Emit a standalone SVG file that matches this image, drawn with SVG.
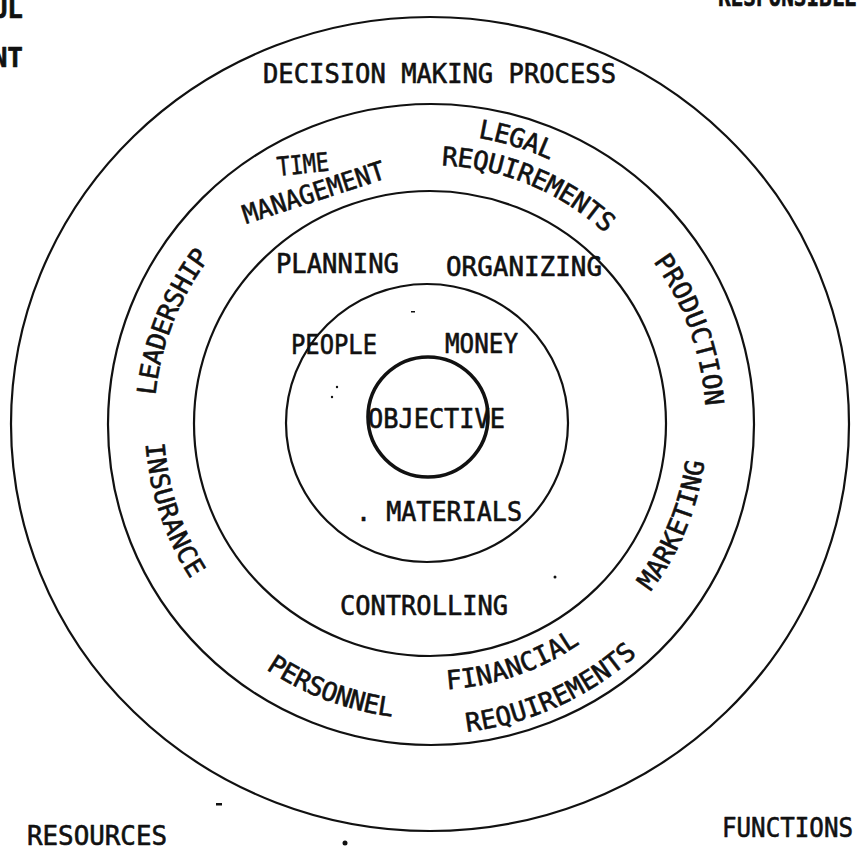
<svg xmlns="http://www.w3.org/2000/svg" width="857" height="848" viewBox="0 0 857 848">
<style>
.ring{fill:none;stroke:#111;stroke-width:2.2}
.obj{fill:none;stroke:#111;stroke-width:3.6}
.t{font-family:"DejaVu Sans Mono","Liberation Mono",monospace;font-size:26px;fill:#111;stroke:#111;stroke-width:0.6;stroke-linejoin:round}
.p{letter-spacing:-0.6px}
.b{font-weight:bold}
.speck{fill:#111}
</style>
<defs>
<path id="cw276" d="M154,424 A276,276 0 1 1 706,424 A276,276 0 1 1 154,424"/>
<path id="cw290" d="M140,424 A290,290 0 1 1 720,424 A290,290 0 1 1 140,424"/>
<path id="cw259" d="M171,424 A259,259 0 1 1 689,424 A259,259 0 1 1 171,424"/>
<path id="ccw285" d="M145,424 A285,285 0 1 0 715,424 A285,285 0 1 0 145,424"/>
<path id="ccw277" d="M153,424 A277,277 0 1 0 707,424 A277,277 0 1 0 153,424"/>
<path id="ccw295" d="M135,424 A295,295 0 1 0 725,424 A295,295 0 1 0 135,424"/>
<path id="ccw266" d="M164,424 A266,266 0 1 0 696,424 A266,266 0 1 0 164,424"/>
<path id="ccw310" d="M120,424 A310,310 0 1 0 740,424 A310,310 0 1 0 120,424"/>
</defs>
<rect width="857" height="848" fill="#fff"/>

<g id="rings">
<ellipse id="ring-outer" class="ring" cx="430" cy="424" rx="419" ry="407"/>
<ellipse id="ring-2" class="ring" cx="431" cy="424.5" rx="323" ry="320.5"/>
<ellipse id="ring-3" class="ring" cx="430" cy="423.5" rx="236" ry="232.5"/>
<ellipse id="ring-4" class="ring" cx="427" cy="423" rx="141" ry="139"/>
</g>

<g id="objective">
<circle class="obj" cx="428" cy="417" r="60"/>
<text class="t" x="368" y="428" textLength="137" lengthAdjust="spacingAndGlyphs">OBJECTIVE</text>
</g>

<g id="corner-labels">
<text class="t b" x="23" y="18" text-anchor="end">UL</text>
<text class="t b" x="23" y="67" text-anchor="end">NT</text>
<text class="t b" x="718" y="6" textLength="139" lengthAdjust="spacingAndGlyphs">RESPONSIBLE</text>
<text class="t" x="27" y="845" textLength="140" lengthAdjust="spacingAndGlyphs">RESOURCES</text>
<text class="t" x="722" y="837" textLength="131" lengthAdjust="spacingAndGlyphs">FUNCTIONS</text>
</g>

<g id="decision-making-process">
<text class="t" x="263" y="83" textLength="353" lengthAdjust="spacingAndGlyphs">DECISION MAKING PROCESS</text>
</g>

<g id="management-functions">
<text class="t" x="276" y="273" textLength="123" lengthAdjust="spacingAndGlyphs">PLANNING</text>
<text class="t" x="446" y="276" textLength="156" lengthAdjust="spacingAndGlyphs">ORGANIZING</text>
<text class="t" x="340" y="615" textLength="168" lengthAdjust="spacingAndGlyphs">CONTROLLING</text>
</g>

<g id="resources">
<text class="t" x="291" y="354" textLength="86" lengthAdjust="spacingAndGlyphs">PEOPLE</text>
<text class="t" x="445" y="353" textLength="73" lengthAdjust="spacingAndGlyphs">MONEY</text>
<text class="t" x="356" y="521" textLength="166" lengthAdjust="spacingAndGlyphs">. MATERIALS</text>
</g>

<g id="time-management">
<text class="t" x="278" y="176" transform="rotate(-6 278 176)" textLength="52" lengthAdjust="spacingAndGlyphs">TIME</text>
<text class="t" x="246" y="224" transform="rotate(-18 246 224)" textLength="148" lengthAdjust="spacingAndGlyphs">MANAGEMENT</text>
</g>

<g id="legal-requirements">
<text class="t p" text-anchor="middle"><textPath href="#cw290" startOffset="541">LEGAL</textPath></text>
<text class="t p" text-anchor="middle"><textPath href="#cw259" startOffset="508.5">REQUIREMENTS</textPath></text>
</g>

<g id="leadership">
<text class="t p" text-anchor="middle"><textPath href="#cw276" startOffset="103.6">LEADERSHIP</textPath></text>
</g>

<g id="insurance">
<text class="t" text-anchor="middle" style="letter-spacing:0.4px"><textPath href="#ccw285" startOffset="92">INSURANCE</textPath></text>
</g>

<g id="production">
<text class="t" text-anchor="middle" style="letter-spacing:-0.1px"><textPath href="#cw276" startOffset="771">PRODUCTION</textPath></text>
</g>

<g id="marketing">
<text class="t" text-anchor="middle" style="letter-spacing:0.2px"><textPath href="#ccw277" startOffset="761">MARKETING</textPath></text>
</g>

<g id="personnel">
<text class="t p" text-anchor="middle"><textPath href="#ccw295" startOffset="357">PERSONNEL</textPath></text>
</g>

<g id="financial-requirements">
<text class="t" text-anchor="middle" style="letter-spacing:0.2px"><textPath href="#ccw266" startOffset="506">FINANCIAL</textPath></text>
<text class="t" text-anchor="middle" style="letter-spacing:0.2px"><textPath href="#ccw310" startOffset="619">REQUIREMENTS</textPath></text>
</g>

<g id="specks">
<circle class="speck" cx="345" cy="843" r="2.5"/>
<rect class="speck" x="216" y="803" width="6" height="2.5"/>
<circle class="speck" cx="337" cy="387" r="1.2"/>
<circle class="speck" cx="332" cy="397" r="1.2"/>
<rect class="speck" x="411" y="311" width="4" height="1.5"/>
<circle class="speck" cx="555" cy="577" r="1.5"/>
</g>
</svg>
